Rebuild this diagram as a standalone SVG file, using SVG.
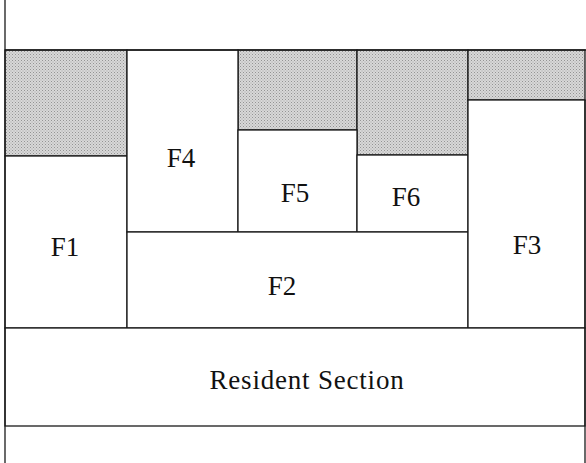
<svg xmlns="http://www.w3.org/2000/svg" width="586" height="463" viewBox="0 0 586 463">
  <defs>
    <pattern id="dots" width="3" height="3" patternUnits="userSpaceOnUse">
      <rect width="3" height="3" fill="#d8d8d8"/>
      <rect x="0" y="0" width="1" height="1" fill="#949494"/>
      <rect x="1.5" y="1.5" width="1" height="1" fill="#a6a6a6"/>
    </pattern>
  </defs>
  <style>
    .free { fill: url(#dots); stroke: #1a1a1a; stroke-width: 1.3; }
    .box { fill: #ffffff; stroke: #1a1a1a; stroke-width: 1.3; }
    .frame { fill: none; stroke: #1a1a1a; stroke-width: 1.3; }
    .lbl { font-size: 27px; fill: #111111; text-anchor: middle; }
  </style>
  <rect width="586" height="463" fill="#ffffff"/>

  <g id="free-space">
    <rect class="free" x="5" y="50" width="122" height="106"/>
    <rect class="free" x="238" y="50" width="119" height="80"/>
    <rect class="free" x="357" y="50" width="111" height="105"/>
    <rect class="free" x="468" y="50" width="117" height="50"/>
  </g>

  <g id="F1">
    <rect class="box" x="5" y="156" width="122" height="172"/>
    <text class="lbl" x="65" y="256" font-family="'Liberation Serif', 'DejaVu Serif', serif">F1</text>
  </g>
  <g id="F4">
    <rect class="box" x="127" y="50" width="111" height="182"/>
    <text class="lbl" x="181" y="167" font-family="'Liberation Serif', 'DejaVu Serif', serif">F4</text>
  </g>
  <g id="F5">
    <rect class="box" x="238" y="130" width="119" height="102"/>
    <text class="lbl" x="295" y="202" font-family="'Liberation Serif', 'DejaVu Serif', serif">F5</text>
  </g>
  <g id="F6">
    <rect class="box" x="357" y="155" width="111" height="77"/>
    <text class="lbl" x="406" y="206" font-family="'Liberation Serif', 'DejaVu Serif', serif">F6</text>
  </g>
  <g id="F2">
    <rect class="box" x="127" y="232" width="341" height="96"/>
    <text class="lbl" x="282" y="295" font-family="'Liberation Serif', 'DejaVu Serif', serif">F2</text>
  </g>
  <g id="F3">
    <rect class="box" x="468" y="100" width="117" height="228"/>
    <text class="lbl" x="527" y="254" font-family="'Liberation Serif', 'DejaVu Serif', serif">F3</text>
  </g>
  <g id="resident-section">
    <rect class="box" x="5" y="328" width="580" height="98"/>
    <text class="lbl" x="307" y="389" letter-spacing="0.8" font-family="'Liberation Serif', 'DejaVu Serif', serif">Resident Section</text>
  </g>

  <g id="connectors">
    <path class="frame" d="M5 0 L5 463"/>
    <path class="frame" d="M5 50 L586 50"/>
    <path class="frame" d="M585 100 L585 463"/>
  </g>
</svg>
